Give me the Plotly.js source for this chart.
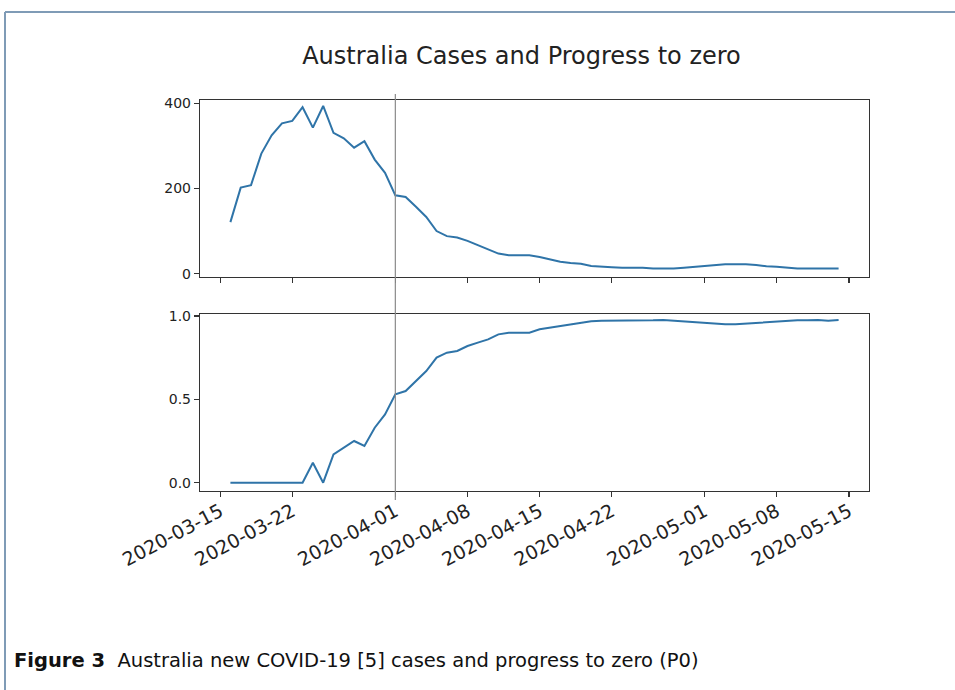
<!DOCTYPE html>
<html>
<head>
<meta charset="utf-8">
<script src="https://cdn.plot.ly/plotly-3.0.1.min.js"></script>
<style>html,body{margin:0;padding:0;background:#fff;}#chart{width:955px;height:690px;}</style>
</head>
<body>
<div id="chart"></div>
<script>
// Data
const dates = [
  "2020-03-16","2020-03-17","2020-03-18","2020-03-19","2020-03-20","2020-03-21","2020-03-22","2020-03-23","2020-03-24","2020-03-25",
  "2020-03-26","2020-03-27","2020-03-28","2020-03-29","2020-03-30","2020-03-31","2020-04-01","2020-04-02","2020-04-03","2020-04-04",
  "2020-04-05","2020-04-06","2020-04-07","2020-04-08","2020-04-09","2020-04-10","2020-04-11","2020-04-12","2020-04-13","2020-04-14",
  "2020-04-15","2020-04-16","2020-04-17","2020-04-18","2020-04-19","2020-04-20","2020-04-21","2020-04-22","2020-04-23","2020-04-24",
  "2020-04-25","2020-04-26","2020-04-27","2020-04-28","2020-04-29","2020-04-30","2020-05-01","2020-05-02","2020-05-03","2020-05-04",
  "2020-05-05","2020-05-06","2020-05-07","2020-05-08","2020-05-09","2020-05-10","2020-05-11","2020-05-12","2020-05-13","2020-05-14"
];
const cases = [
  121, 202, 208, 282, 325, 353, 359, 391, 343, 394,
  331, 318, 296, 311, 268, 237, 184, 180, 157, 133,
  100, 88, 85, 77, 67, 57, 47, 43, 43, 43,
  39, 33, 28, 25, 23, 18, 16, 15, 14, 14,
  14, 12, 12, 12, 14, 16, 19, 20, 22, 22,
  22, 20, 17, 16, 14, 12, 12, 12, 13, 12
];
const progress = [
  0, 0, 0, 0, 0, 0, 0, 0, 0.12, 0,
  0.17, 0.21, 0.25, 0.22, 0.33, 0.41, 0.53, 0.55, 0.61, 0.67,
  0.75, 0.78, 0.79, 0.82, 0.84, 0.86, 0.89, 0.90, 0.90, 0.90,
  0.92, 0.93, 0.94, 0.95, 0.96, 0.968, 0.972, 0.972, 0.970, 0.970,
  0.972, 0.974, 0.976, 0.972, 0.968, 0.962, 0.956, 0.952, 0.950, 0.950,
  0.954, 0.960, 0.964, 0.968, 0.972, 0.974, 0.974, 0.976, 0.972, 0.976
];
const tickDates = ["2020-03-15","2020-03-22","2020-04-01","2020-04-08","2020-04-15","2020-04-22","2020-05-01","2020-05-08","2020-05-15"];
const tickLabels = ["2020-03-15","2020-03-22","2020-04-01","2020-04-08","2020-04-15","2020-04-22","2020-05-01","2020-05-08","2020-05-15"];
const markerDate = "2020-04-01";
const titleText = "Australia Cases and Progress to zero";
const captionBold = "Figure 3";
const captionText = "Australia new COVID-19 [5] cases and progress to zero (P0)";

const W = 955, H = 690;
const px = x => x / W;
const py = y => 1 - y / H;

const lineColor = "#2f74a8";
const axisColor = "#333333";
const tickFont = {family: "DejaVu Sans", size: 14, color: "#222"};
const dateFont = {family: "DejaVu Sans", size: 19, color: "#222"};
const xRange = ["2020-03-13 01:12", "2020-05-16 22:48"];

const xCommon = {
  type: "date",
  range: xRange,
  domain: [px(200), px(869)],
  tickmode: "array",
  tickvals: tickDates,
  showline: true, mirror: true, linecolor: axisColor, linewidth: 1.2,
  ticks: "outside", ticklen: 5, tickwidth: 1.2, tickcolor: axisColor,
  showgrid: false, zeroline: false,
  tickfont: tickFont
};

const data = [
  {x: dates, y: cases, type: "scatter", mode: "lines", xaxis: "x", yaxis: "y",
   line: {color: lineColor, width: 2}, hoverinfo: "x+y"},
  {x: dates, y: progress, type: "scatter", mode: "lines", xaxis: "x2", yaxis: "y2",
   line: {color: lineColor, width: 2}, hoverinfo: "x+y"}
];

const layout = {
  width: W, height: H,
  margin: {l: 0, r: 0, t: 0, b: 0},
  paper_bgcolor: "#ffffff", plot_bgcolor: "#ffffff",
  showlegend: false,
  title: {text: titleText, x: px(521.5), xanchor: "center", y: py(56), yanchor: "middle",
          font: {family: "DejaVu Sans", size: 24, color: "#222"}},
  xaxis: Object.assign({}, xCommon, {anchor: "y", showticklabels: false}),
  yaxis: {domain: [py(277), py(100)], range: [-8, 408], anchor: "x",
          tickvals: [0, 200, 400], ticktext: ["0", "200", "400"],
          showline: true, mirror: true, linecolor: axisColor, linewidth: 1.2,
          ticks: "outside", ticklen: 5, tickwidth: 1.2, tickcolor: axisColor,
          showgrid: false, zeroline: false, tickfont: tickFont},
  xaxis2: Object.assign({}, xCommon, {anchor: "y2", ticktext: tickLabels, tickangle: -28,
          tickfont: dateFont, ticklabelstandoff: -4}),
  yaxis2: {domain: [py(491), py(314)], range: [-0.0498, 1.012], anchor: "x2",
           tickvals: [0, 0.5, 1.0], ticktext: ["0.0", "0.5", "1.0"],
           showline: true, mirror: true, linecolor: axisColor, linewidth: 1.2,
           ticks: "outside", ticklen: 5, tickwidth: 1.2, tickcolor: axisColor,
           showgrid: false, zeroline: false, tickfont: tickFont},
  shapes: [
    {type: "line", xref: "x", yref: "paper", x0: markerDate, x1: markerDate,
     y0: py(500), y1: py(94), line: {color: "#8a8a8a", width: 1.2}},
    {type: "line", xref: "paper", yref: "paper", x0: px(5), x1: 1, y0: py(12), y1: py(12),
     line: {color: "#7f9bb6", width: 2}},
    {type: "line", xref: "paper", yref: "paper", x0: px(5), x1: px(5), y0: py(12), y1: 0,
     line: {color: "#7f9bb6", width: 2}}
  ],
  annotations: [
    {xref: "paper", yref: "paper", x: px(12), y: py(660), xanchor: "left", yanchor: "middle",
     showarrow: false, align: "left",
     text: "<b>" + captionBold + "</b>  " + captionText,
     font: {family: "DejaVu Sans", size: 19.5, color: "#111"}}
  ]
};

Plotly.newPlot("chart", data, layout, {displayModeBar: false, staticPlot: true});
</script>
</body>
</html>
